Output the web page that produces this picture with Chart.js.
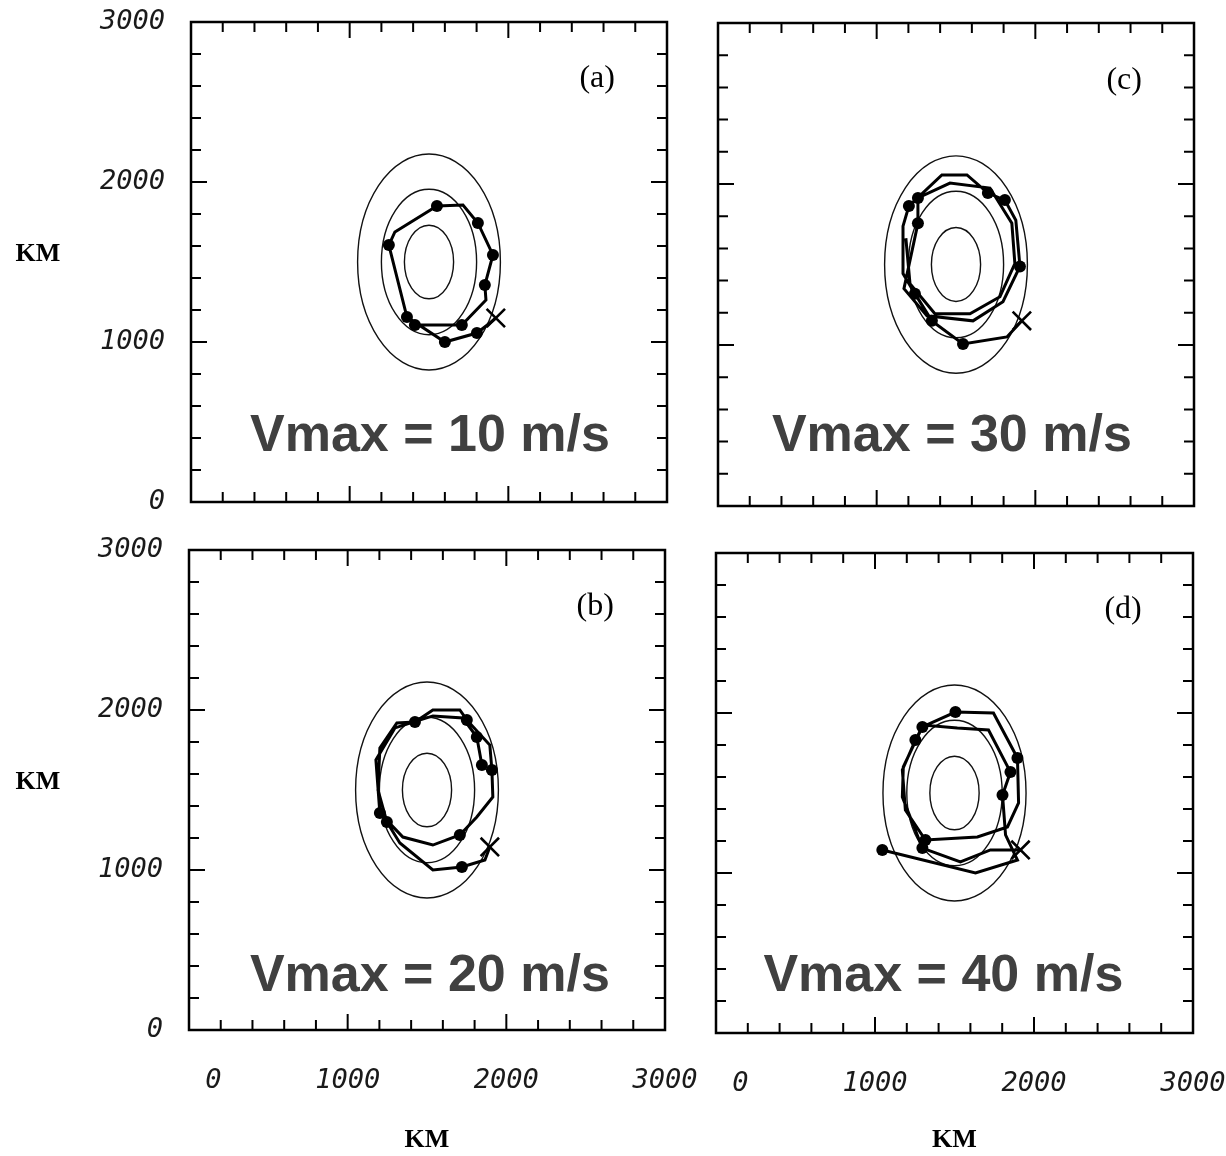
<!DOCTYPE html>
<html>
<head>
<meta charset="utf-8">
<script src="https://cdn.jsdelivr.net/npm/chart.js@4.4.0/dist/chart.umd.min.js"></script>
<style>
body { margin: 0; background: #fff; }
#wrap { position: relative; width: 1226px; height: 1156px; }
canvas { position: absolute; }
</style>
</head>
<body>
<div id="wrap">
  <canvas id="panelA" width="700" height="530" style="left:0;top:0"></canvas>
  <canvas id="panelC" width="526" height="530" style="left:700px;top:0"></canvas>
  <canvas id="panelB" width="700" height="626" style="left:0;top:530px"></canvas>
  <canvas id="panelD" width="526" height="626" style="left:700px;top:530px"></canvas>
</div>
<script>
// axis labels (km)
var axisTicks = [0, 1000, 2000, 3000];

// streamline ellipses of the basic flow, centre and semi-axes (km)
var ellipseCenter = [1500, 1500];
var ellipseRx = [155, 300, 450];
var ellipseRy = [230, 455, 675];

// vortex tracks (x km, y km); first point is the start (X)
var trackA = [[1921,1150],[1884,1119],[1802,1056],[1600,1000],[1361,1156],[1247,1606],[1285,1688],[1550,1850],
  [1714,1856],[1808,1744],[1903,1544],[1852,1356],[1859,1263],[1707,1106],[1411,1106]];
var dotsA = [2, 3, 4, 5, 7, 9, 10, 11, 13, 14];

var trackB = [[1896,1144],[1865,1063],[1720,1019],[1537,1000],[1329,1169],[1247,1300],[1191,1500],[1203,1763],
  [1310,1919],[1424,1925],[1537,2000],[1707,2000],[1751,1938],[1896,1781],[1909,1625],[1915,1456],[1814,1331],
  [1707,1219],[1537,1156],[1348,1206],[1203,1356],[1178,1688],[1298,1888],[1537,1963],[1726,1950],[1814,1831],
  [1846,1656]];
var dotsB = [2, 5, 9, 12, 14, 17, 20, 25, 26];

var trackC = [[1915,1150],[1821,1050],[1544,1006],[1348,1150],[1241,1319],[1166,1444],[1166,1738],[1203,1863],
  [1411,2056],[1569,2056],[1701,1944],[1808,1900],[1877,1775],[1903,1488],[1796,1269],[1607,1150],[1317,1181],
  [1172,1350],[1260,1756],[1260,1913],[1462,2006],[1714,1975],[1852,1756],[1871,1506],[1777,1300],[1588,1194],
  [1367,1194],[1210,1381],[1184,1663]];
var dotsC = [2, 3, 4, 7, 10, 11, 13, 18, 19];

var trackD = [[1915,1144],[1726,1144],[1537,1069],[1298,1156],[1172,1475],[1178,1663],[1298,1913],[1506,2006],
  [1745,2000],[1896,1719],[1903,1438],[1833,1288],[1644,1225],[1317,1206],[1191,1394],[1172,1644],[1254,1831],
  [1304,1925],[1518,1906],[1714,1894],[1852,1631],[1802,1488],[1821,1238],[1896,1081],[1632,1000],[1046,1144]];
var dotsD = [3, 6, 7, 9, 13, 16, 20, 21, 25];

var panelLetters = ['(a)', '(b)', '(c)', '(d)'];
var vmaxLabels = ['Vmax = 10 m/s', 'Vmax = 20 m/s', 'Vmax = 30 m/s', 'Vmax = 40 m/s'];

var tickFont = { family: 'DejaVu Sans Mono', size: 27, style: 'italic' };

var panelDecor = {
  id: 'panelDecor',
  beforeDatasetsDraw: function(chart, args, o) {
    var ctx = chart.ctx, x = chart.scales.x, y = chart.scales.y;
    var cx = x.getPixelForValue(ellipseCenter[0]), cy = y.getPixelForValue(ellipseCenter[1]);
    ctx.save();
    ctx.strokeStyle = '#111';
    ctx.lineWidth = 1.4;
    ellipseRx.forEach(function(rx, i) {
      var px = x.getPixelForValue(ellipseCenter[0] + rx) - cx;
      var py = cy - y.getPixelForValue(ellipseCenter[1] + ellipseRy[i]);
      ctx.beginPath();
      ctx.ellipse(cx, cy, px, py, 0, 0, Math.PI * 2);
      ctx.stroke();
    });
    ctx.restore();
  },
  afterDraw: function(chart, args, o) {
    var ctx = chart.ctx, a = chart.chartArea, x = chart.scales.x, y = chart.scales.y;
    ctx.save();
    ctx.strokeStyle = '#000';
    ctx.lineWidth = 2.5;
    ctx.strokeRect(a.left, a.top, a.right - a.left, a.bottom - a.top);
    // inward tick marks every 200 km, longer every 1000 km
    ctx.lineWidth = 2;
    ctx.beginPath();
    for (var v = 200; v < 3000; v += 200) {
      var len = v % 1000 === 0 ? 16 : 10;
      var px = x.getPixelForValue(v), py = y.getPixelForValue(v);
      ctx.moveTo(px, a.bottom); ctx.lineTo(px, a.bottom - len);
      ctx.moveTo(px, a.top); ctx.lineTo(px, a.top + len);
      ctx.moveTo(a.left, py); ctx.lineTo(a.left + len, py);
      ctx.moveTo(a.right, py); ctx.lineTo(a.right - len, py);
    }
    ctx.stroke();

    ctx.fillStyle = '#000';
    ctx.textAlign = 'center';
    ctx.textBaseline = 'middle';
    ctx.font = '32px "Liberation Serif"';
    ctx.fillText(o.letter, x.getPixelForValue(2560), y.getPixelForValue(2645));

    ctx.fillStyle = '#404040';
    ctx.font = 'bold 52px "Liberation Sans"';
    ctx.fillText(o.vmax, x.getPixelForValue(o.vmaxPos[0]), y.getPixelForValue(o.vmaxPos[1]));

    if (o.sideTitle) {
      ctx.fillStyle = '#000';
      ctx.font = 'bold 26px "Liberation Serif"';
      ctx.fillText('KM', 38, y.getPixelForValue(1550));
    }
    ctx.restore();
  }
};

function makePanel(canvasId, track, dots, cfg) {
  return new Chart(document.getElementById(canvasId), {
    type: 'scatter',
    data: {
      datasets: [{
        data: track.map(function(p) { return { x: p[0], y: p[1] }; }),
        showLine: true,
        borderColor: '#000',
        borderWidth: 3,
        tension: 0,
        pointRadius: function(c) { return dots.indexOf(c.dataIndex) >= 0 ? 6 : 0; },
        pointBackgroundColor: '#000',
        pointBorderWidth: 0,
        pointHoverRadius: 0
      }, {
        data: [{ x: track[0][0], y: track[0][1] }],
        pointStyle: 'crossRot',
        pointRadius: 13,
        borderColor: '#000',
        borderWidth: 2.6,
        showLine: false
      }]
    },
    options: {
      animation: false,
      responsive: false,
      events: [],
      layout: { padding: cfg.padding },
      plugins: {
        legend: { display: false },
        tooltip: { enabled: false },
        panelDecor: { letter: cfg.letter, vmax: cfg.vmax, vmaxPos: cfg.vmaxPos, sideTitle: cfg.showY }
      },
      scales: {
        x: {
          type: 'linear', min: 0, max: 3000, display: cfg.showX,
          grid: { display: false }, border: { display: false },
          afterBuildTicks: function(s) { s.ticks = axisTicks.map(function(v) { return { value: v }; }); },
          ticks: {
            padding: 27, maxRotation: 0, autoSkip: false, font: tickFont, color: '#1a1a1a',
            callback: function(v) { return v === 0 ? '   0' : String(v); }
          },
          title: {
            display: true, text: 'KM', color: '#000',
            font: { family: 'Liberation Serif', weight: 'bold', size: 26 },
            padding: { top: 0, bottom: 0 }
          },
          afterFit: function(s) { s.height = cfg.xHeight; s.paddingLeft = 0; s.paddingRight = 0; }
        },
        y: {
          type: 'linear', min: 0, max: 3000, display: cfg.showY,
          grid: { display: false }, border: { display: false },
          afterBuildTicks: function(s) { s.ticks = axisTicks.map(function(v) { return { value: v }; }); },
          ticks: {
            padding: 18, font: tickFont, color: '#1a1a1a',
            callback: function(v) { return String(v); }
          },
          afterFit: function(s) { s.width = cfg.yWidth; s.paddingTop = 0; s.paddingBottom = 0; }
        }
      }
    },
    plugins: [panelDecor]
  });
}

makePanel('panelA', trackA, dotsA, {
  letter: panelLetters[0], vmax: vmaxLabels[0], vmaxPos: [1506, 406],
  showX: false, showY: true, yWidth: 191, xHeight: 0,
  padding: { left: 0, right: 33, top: 22, bottom: 28 }
});
makePanel('panelB', trackB, dotsB, {
  letter: panelLetters[1], vmax: vmaxLabels[1], vmaxPos: [1518, 331],
  showX: true, showY: true, yWidth: 189, xHeight: 126,
  padding: { left: 0, right: 35, top: 20, bottom: 0 }
});
makePanel('panelC', trackC, dotsC, {
  letter: panelLetters[2], vmax: vmaxLabels[2], vmaxPos: [1474, 431],
  showX: false, showY: false, yWidth: 0, xHeight: 0,
  padding: { left: 18, right: 32, top: 23, bottom: 24 }
});
makePanel('panelD', trackD, dotsD, {
  letter: panelLetters[3], vmax: vmaxLabels[3], vmaxPos: [1430, 350],
  showX: true, showY: false, yWidth: 0, xHeight: 123,
  padding: { left: 16, right: 33, top: 23, bottom: 0 }
});
</script>
</body>
</html>
